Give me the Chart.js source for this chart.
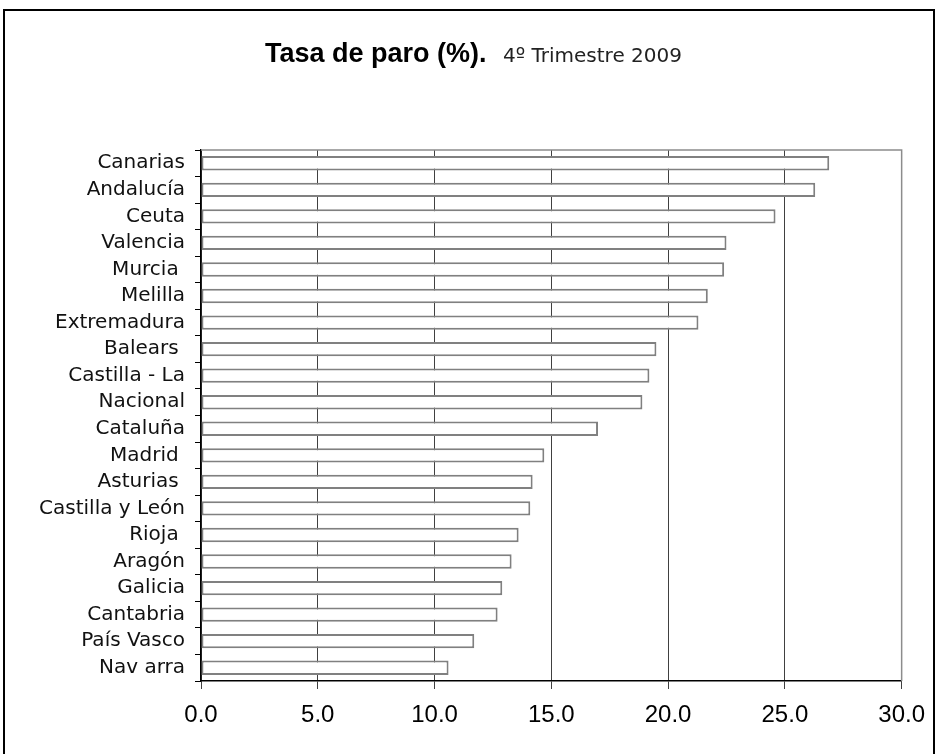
<!DOCTYPE html>
<html>
<head>
<meta charset="utf-8">
<script src="https://cdn.jsdelivr.net/npm/chart.js@4"></script>
<style>
  html, body { margin: 0; padding: 0; background: #fff; }
  #wrap { position: relative; width: 937px; height: 754px; }
</style>
</head>
<body>
<div id="wrap"><canvas id="chart" width="937" height="754"></canvas></div>
<script>
// Tasa de paro por comunidad, 4º trimestre 2009
const regions = [
  'Canarias', 'Andalucía', 'Ceuta', 'Valencia', 'Murcia ', 'Melilla',
  'Extremadura', 'Balears ', 'Castilla - La', 'Nacional', 'Cataluña',
  'Madrid ', 'Asturias ', 'Castilla y León', 'Rioja ', 'Aragón',
  'Galicia', 'Cantabria', 'País Vasco', 'Nav arra'
];
const rates = [
  26.9, 26.3, 24.6, 22.5, 22.4, 21.7,
  21.3, 19.5, 19.2, 18.9, 17.0,
  14.7, 14.2, 14.1, 13.6, 13.3,
  12.9, 12.7, 11.7, 10.6
];
const xTicks = [0, 5, 10, 15, 20, 25, 30];

// frame, plot-area box and two-part title
const decor = {
  id: 'decor',
  beforeInit(chart) {
    // wide, loosely spaced labels like the original
    chart.ctx.letterSpacing = '0.8px';
  },
  beforeDraw(chart) {
    const { ctx } = chart;
    ctx.save();
    ctx.fillStyle = '#fff';
    ctx.fillRect(0, 0, chart.width, chart.height);
    ctx.strokeStyle = '#000';
    ctx.lineWidth = 2;
    ctx.strokeRect(4, 10, 930, 760);
    ctx.restore();
  },
  afterDatasetsDraw(chart) {
    const { ctx, chartArea: a } = chart;
    ctx.save();
    ctx.letterSpacing = '0px';
    ctx.strokeStyle = '#8c8c8c';
    ctx.lineWidth = 1.5;
    ctx.beginPath();
    ctx.moveTo(a.left, a.top);
    ctx.lineTo(a.right, a.top);
    ctx.lineTo(a.right, a.bottom);
    ctx.stroke();

    ctx.textBaseline = 'alphabetic';
    ctx.fillStyle = '#000';
    ctx.font = 'bold 27px "Liberation Sans", Arial, sans-serif';
    ctx.fillText('Tasa de paro (%).', 265, 62);
    ctx.fillStyle = '#222';
    ctx.font = '20px "DejaVu Sans", sans-serif';
    ctx.fillText('4º Trimestre 2009', 503, 62);
    ctx.restore();
  }
};

new Chart(document.getElementById('chart'), {
  type: 'bar',
  data: {
    labels: regions,
    datasets: [{
      data: rates,
      backgroundColor: '#ffffff',
      borderColor: '#808080',
      borderWidth: 2,
      borderSkipped: false,
      barPercentage: 0.54,
      categoryPercentage: 1.0
    }]
  },
  options: {
    indexAxis: 'y',
    responsive: false,
    animation: false,
    layout: { padding: { top: 150, right: 35, left: 0, bottom: 0 } },
    plugins: {
      legend: { display: false },
      tooltip: { enabled: false },
      title: { display: false }
    },
    scales: {
      x: {
        min: 0,
        max: 30,
        afterBuildTicks(scale) {
          scale.ticks = xTicks.map(v => ({ value: v }));
        },
        afterFit(scale) { scale.height = 73; },
        grid: {
          color: '#404040',
          lineWidth: 1,
          tickLength: 8
        },
        border: { color: '#000', width: 1.5 },
        ticks: {
          color: '#000',
          padding: 12,
          maxRotation: 0,
          font: { family: '"Liberation Sans", Arial, sans-serif', size: 24 },
          callback: v => Number(v).toFixed(1)
        }
      },
      y: {
        afterFit(scale) { scale.width = 201; },
        grid: {
          offset: true,
          drawOnChartArea: false,
          tickLength: 6,
          color: '#000'
        },
        border: { color: '#000', width: 1.5 },
        ticks: {
          color: '#111',
          padding: 10,
          autoSkip: false,
          font: { family: '"DejaVu Sans", sans-serif', size: 20 }
        }
      }
    }
  },
  plugins: [decor]
});
</script>
</body>
</html>
